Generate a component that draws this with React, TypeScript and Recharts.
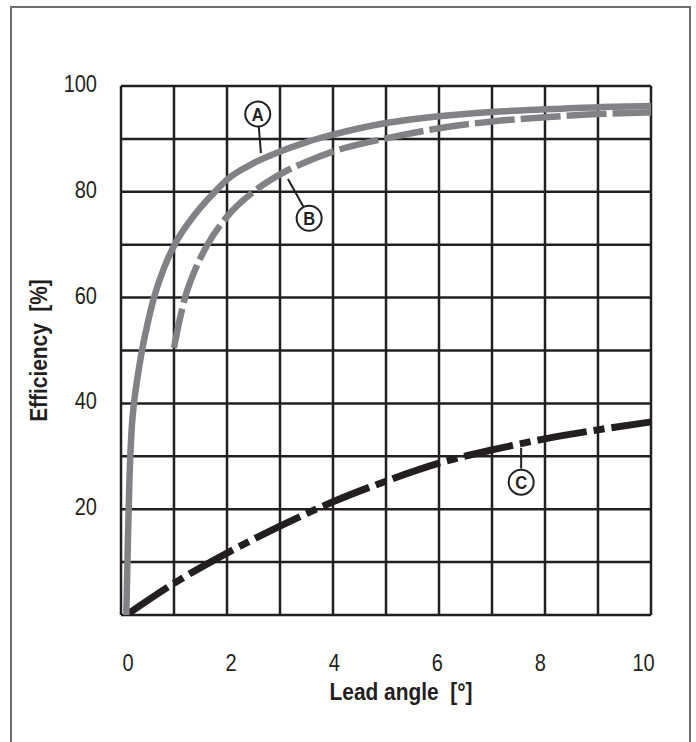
import React from 'react';
import {
  LineChart,
  Line,
  XAxis,
  YAxis,
  CartesianGrid,
  ReferenceLine,
  ReferenceDot,
  Label,
} from 'recharts';

// lead angle [°] / efficiency [%]
const angleA = [0.1, 0.13, 0.16, 0.2, 0.25, 0.31, 0.39, 0.5, 0.6, 0.8, 1.0, 1.4, 1.8, 2.0, 2.5, 3, 3.5, 4, 5, 6, 7, 8, 9, 10];
const effA = [0, 14, 26, 35, 40.5, 44.8, 49.7, 55, 59.2, 65.3, 69.8, 75.8, 80.3, 82.3, 85.4, 87.6, 89.4, 90.8, 93.0, 94.3, 95.1, 95.6, 96.0, 96.2];

const angleB = [1.0, 1.1, 1.2, 1.4, 1.62, 2.0, 2.5, 3, 3.5, 4, 5, 6, 7, 8, 9, 10];
const effB = [50.5, 55.5, 59.7, 65.3, 69.8, 75.3, 80, 83.3, 85.7, 87.6, 90.1, 92, 93.3, 94.1, 94.7, 95];

const angleC = [0.1, 1, 2, 3, 4, 5, 6, 7, 8, 9, 10];
const effC = [0, 6, 11.7, 16.8, 21.4, 25.3, 28.7, 31.2, 33.3, 35, 36.5];

const xTicks = [0, 1, 2, 3, 4, 5, 6, 7, 8, 9, 10];
const yTicks = [0, 10, 20, 30, 40, 50, 60, 70, 80, 90, 100];

const toPoints = (xs: number[], ys: number[]) => xs.map((x, i) => ({ x, y: ys[i] }));

const dataA = toPoints(angleA, effA);
const dataB = toPoints(angleB, effB);
const dataC = toPoints(angleC, effC);

const FONT = "'Liberation Sans', Arial, sans-serif";
const INK = '#231f20';
const GREY = '#808285';
const SQUEEZE = 0.87;

// condensed-looking text: squeeze horizontally around the anchor point
function Narrow({ x, y, anchor, size, bold, children, rotate }: any) {
  const t = rotate
    ? `translate(${x},${y}) rotate(-90) scale(${SQUEEZE},1)`
    : `translate(${x},${y}) scale(${SQUEEZE},1)`;
  return (
    <text
      transform={t}
      textAnchor={anchor}
      fontFamily={FONT}
      fontWeight={bold ? 'bold' : 'normal'}
      fontSize={size}
      fill={INK}
    >
      {children}
    </text>
  );
}

function XTick({ x, y, payload }: any) {
  const v = payload.value;
  if (v % 2 !== 0) return null;
  return (
    <Narrow x={x + 7 - 1.45 * v} y={y + 48} anchor="middle" size={23}>
      {v}
    </Narrow>
  );
}

function YTick({ x, y, payload }: any) {
  const v = payload.value;
  if (v === 0 || v % 20 !== 0) return null;
  return (
    <Narrow x={x} y={y + 6} anchor="end" size={23}>
      {v}
    </Narrow>
  );
}

function Marker({ cx, cy, letter }: any) {
  return (
    <g>
      <circle cx={cx} cy={cy} r={12.5} fill="#fff" stroke={INK} strokeWidth={2} />
      <Narrow x={cx} y={cy + 7} anchor="middle" size={19} bold>
        {letter}
      </Narrow>
    </g>
  );
}

export default function App() {
  return (
    <>
      <div
        style={{
          position: 'absolute',
          left: 10,
          top: 6,
          width: 681,
          height: 780,
          border: '2px solid #6d6e71',
          boxSizing: 'border-box',
        }}
      />
      <div style={{ position: 'absolute', left: 0, top: 0 }}>
        <LineChart width={696} height={742} margin={{ top: 86, right: 45, bottom: 42, left: 10 }}>
          <CartesianGrid stroke={INK} strokeWidth={2.5} />
          <XAxis
            type="number"
            dataKey="x"
            domain={[0, 10]}
            ticks={xTicks}
            allowDataOverflow
            axisLine={false}
            tickLine={false}
            height={85}
            tick={<XTick />}
            interval={0}
          >
            <Label
              content={({ viewBox }: any) => (
                <Narrow x={viewBox.x + viewBox.width / 2 + 15} y={viewBox.y + 85} anchor="middle" size={24} bold>
                  {'Lead angle\u00a0\u00a0[°]'}
                </Narrow>
              )}
            />
          </XAxis>
          <YAxis
            type="number"
            domain={[0, 100]}
            ticks={yTicks}
            allowDataOverflow
            axisLine={false}
            tickLine={false}
            width={111}
            tickMargin={18}
            tick={<YTick />}
            interval={0}
          >
            <Label
              content={({ viewBox }: any) => (
                <Narrow x={viewBox.x + 37} y={viewBox.y + viewBox.height / 2} anchor="middle" size={24} bold rotate>
                  {'Efficiency\u00a0\u00a0[%]'}
                </Narrow>
              )}
            />
          </YAxis>

          <Line
            data={dataC}
            dataKey="y"
            type="monotone"
            stroke={INK}
            strokeWidth={7}
            strokeDasharray="50 7 11 7"
            strokeLinecap="butt"
            dot={false}
            isAnimationActive={false}
          />
          <Line
            data={dataB}
            dataKey="y"
            type="monotone"
            stroke={GREY}
            strokeWidth={6.5}
            strokeDasharray="40 6"
            strokeLinecap="butt"
            dot={false}
            isAnimationActive={false}
          />
          <Line
            data={dataA}
            dataKey="y"
            type="monotone"
            stroke={GREY}
            strokeWidth={6.5}
            strokeLinecap="butt"
            dot={false}
            isAnimationActive={false}
          />

          <ReferenceLine segment={[{ x: 2.6, y: 92.3 }, { x: 2.64, y: 87.3 }]} stroke={INK} strokeWidth={2} />
          <ReferenceLine segment={[{ x: 3.15, y: 82.4 }, { x: 3.44, y: 77.2 }]} stroke={INK} strokeWidth={2} />
          <ReferenceLine segment={[{ x: 7.55, y: 27.7 }, { x: 7.55, y: 31.6 }]} stroke={INK} strokeWidth={2} />
          <ReferenceDot x={2.58} y={94.7} shape={(p: any) => <Marker {...p} letter="A" />} />
          <ReferenceDot x={3.55} y={75.0} shape={(p: any) => <Marker {...p} letter="B" />} />
          <ReferenceDot x={7.55} y={25.1} shape={(p: any) => <Marker {...p} letter="C" />} />
        </LineChart>
      </div>
    </>
  );
}
